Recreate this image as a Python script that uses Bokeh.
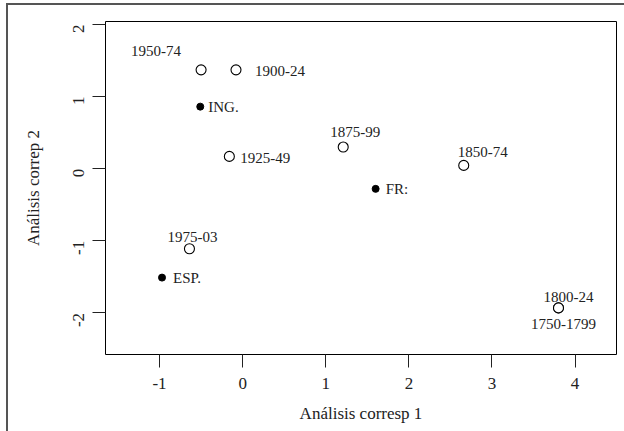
import math
from bokeh.plotting import figure
from bokeh.models import ColumnDataSource, FixedTicker, Range1d, CustomJSTickFormatter
from bokeh.core.properties import value
from bokeh.embed import file_html
from bokeh.resources import INLINE

# ---- data ----
period_labels = ["1950-74", "1900-24", "1875-99", "1925-49", "1850-74", "1975-03", "1800-24", "1750-1799"]
period_x = [-0.50, -0.08, 1.21, -0.16, 2.66, -0.64, 3.80, 3.80]
period_y = [1.37, 1.37, 0.30, 0.17, 0.045, -1.11, -1.93, -1.93]

country_labels = ["ING.", "FR:", "ESP."]
country_x = [-0.51, 1.60, -0.97]
country_y = [0.86, -0.28, -1.51]

x_ticks = [-1, 0, 1, 2, 3, 4]
y_ticks = [-2, -1, 0, 1, 2]
x_title = "Análisis corresp 1"
y_title = "Análisis correp 2"

# ---- label placement styles (screen pixels) ----
period_dx = [-45, 19, 12, 11, 19, 3, 10, 5]
period_dy = [-19, 1, -15, 2, -13, -12, -11, 16]
period_align = ["center", "left", "center", "left", "center", "center", "center", "center"]
country_dx = [8, 10, 11]
country_dy = [0, 0, 0]

FONT = "Liberation Serif"
INK = "#222222"

p = figure(width=618, height=428, output_backend="svg", toolbar_location=None,
           x_range=Range1d(-1.65, 4.498), y_range=Range1d(-2.576, 2.04),
           min_border_left=97, min_border_right=10, min_border_top=16, min_border_bottom=79)
p.styles = {"margin-left": "6px", "margin-top": "3px",
            "border-top": "2px solid #555555", "border-left": "2px solid #555555",
            "box-sizing": "border-box"}
p.background_fill_color = "white"
p.border_fill_color = "white"
p.outline_line_color = "black"
p.outline_line_width = 1
p.xgrid.visible = False
p.ygrid.visible = False

plain = CustomJSTickFormatter(code="return String(tick);")
for ax in (p.xaxis[0], p.yaxis[0]):
    ax.formatter = plain
    ax.major_tick_in = 0
    ax.major_tick_out = 13
    ax.minor_tick_line_color = None
    ax.axis_line_color = None
    ax.major_tick_line_color = INK
    ax.major_label_text_font = FONT
    ax.major_label_text_font_size = "17px"
    ax.major_label_text_color = INK
    ax.axis_label_text_font = FONT
    ax.axis_label_text_font_size = "17px"
    ax.axis_label_text_font_style = "normal"
    ax.axis_label_text_color = INK

p.xaxis.ticker = FixedTicker(ticks=x_ticks)
p.yaxis.ticker = FixedTicker(ticks=y_ticks)
p.xaxis.axis_label = x_title
p.yaxis.axis_label = y_title
p.yaxis.major_label_orientation = math.pi / 2
p.xaxis.major_label_standoff = 10
p.xaxis.axis_label_standoff = 12
p.yaxis.major_label_standoff = 14
p.yaxis.axis_label_standoff = 22

per = ColumnDataSource(dict(x=period_x, y=period_y, label=period_labels,
                            dx=period_dx, dy=period_dy, align=period_align))
cty = ColumnDataSource(dict(x=country_x, y=country_y, label=country_labels,
                            dx=country_dx, dy=country_dy))

p.scatter("x", "y", source=per, size=10, marker="circle", fill_color="white",
          line_color="black", line_width=1.1)
p.scatter("x", "y", source=cty, size=7, marker="circle", fill_color="black",
          line_color="black")

p.text("x", "y", text="label", source=per, x_offset="dx", y_offset="dy",
       text_align="align", text_baseline="middle", text_font=value(FONT),
       text_font_size="15px", text_color=INK)
p.text("x", "y", text="label", source=cty, x_offset="dx", y_offset="dy",
       text_align="left", text_baseline="middle", text_font=value(FONT),
       text_font_size="15px", text_color=INK)

open("out.html", "w").write(file_html(p, INLINE))
